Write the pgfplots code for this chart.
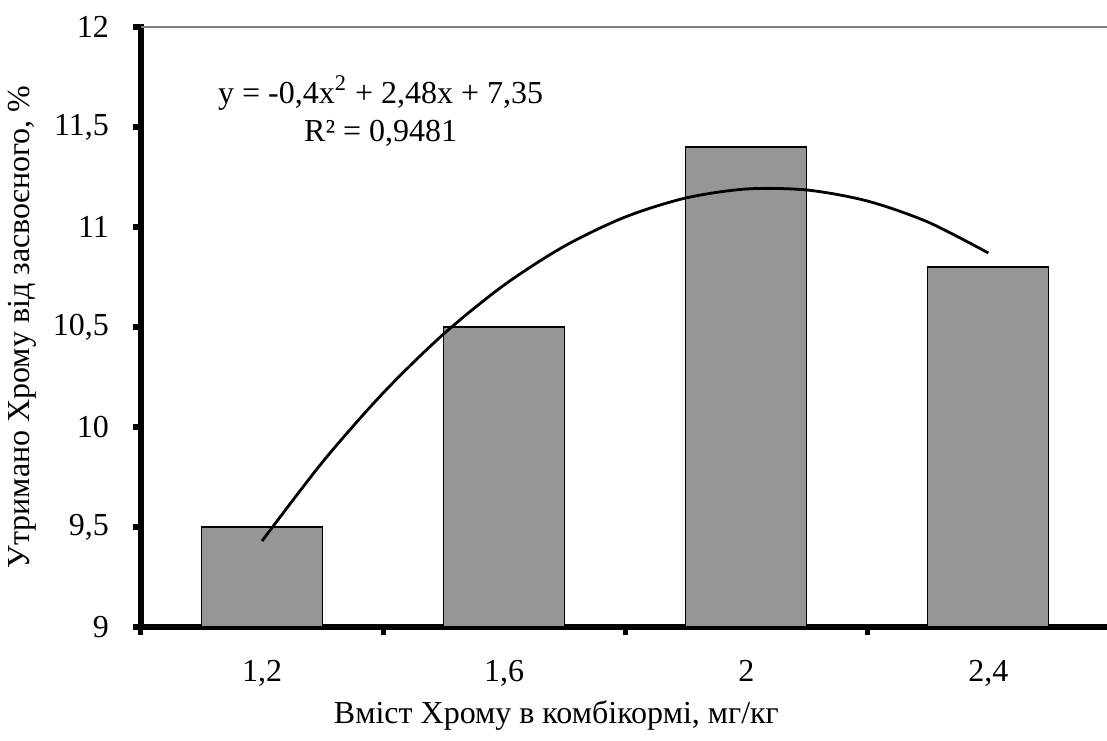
\documentclass[border=0pt]{standalone}
\usepackage{fontspec}
\setmainfont{Liberation Serif}
\usepackage{pgfplots}
\pgfplotsset{compat=1.18}
\definecolor{barGray}{HTML}{969696}
\newcommand{\chfont}{\fontsize{16}{19}\selectfont}

\begin{document}
\begin{tikzpicture}
\begin{axis}[
  scale only axis,
  width=483pt, height=300pt,
  xmin=0.5, xmax=4.49,
  ymin=9, ymax=12,
  axis x line*=bottom,
  axis y line*=left,
  axis line style={line width=3pt, -, line cap=rect},
  tick align=outside,
  xtick={1,2,3,4},
  xticklabels={{1,2},{1,6},2,{2,4}},
  major x tick style={draw=none},
  minor xtick={0.5,1.5,2.5,3.5},
  minor x tick style={black, line width=2.5pt},
  minor tick length=4pt,
  ytick={9,9.5,10,10.5,11,11.5,12},
  yticklabels={9,{9,5},10,{10,5},11,{11,5},12},
  y tick style={black, line width=3pt},
  major tick length=4pt,
  xticklabel style={font=\chfont, yshift=-9pt},
  yticklabel style={font=\chfont, xshift=-8.5pt},
  label style={font=\chfont},
  xlabel={Вміст Хрому в комбікормі, мг/кг},
  ylabel={Утримано Хрому від засвоєного, \%},
  xlabel style={at={(axis description cs:0.43,-0.147)}, anchor=center},
  ylabel style={at={(axis description cs:-0.123,0.5)}, anchor=center},
  after end axis/.code={\draw[gray, line width=1pt] (rel axis cs:0,1) -- (rel axis cs:1,1);},
]
\addplot[ybar, bar width=60.5pt, fill=barGray, draw=black, line width=0.6pt]
  coordinates {(1,9.5) (2,10.5) (3,11.4) (4,10.8)};
\addplot[black, line width=1.4pt, smooth, mark=none] coordinates {
  (1,9.43) (1.25,9.825) (1.5,10.17) (1.75,10.465) (2,10.71) (2.25,10.905)
  (2.5,11.05) (2.75,11.145) (3,11.19) (3.25,11.185) (3.5,11.13) (3.75,11.025) (4,10.87)};
\node[font=\chfont, align=center] at (axis cs:1.49,11.58)
  {y = -0,4x\textsuperscript{2} + 2,48x + 7,35\\R² = 0,9481};
\end{axis}
\pgfresetboundingbox
\path[use as bounding box] ([xshift=-70.5pt,yshift=-56.5pt]current axis.south west)
  rectangle ([yshift=13.5pt]current axis.north east);
\end{tikzpicture}
\end{document}
